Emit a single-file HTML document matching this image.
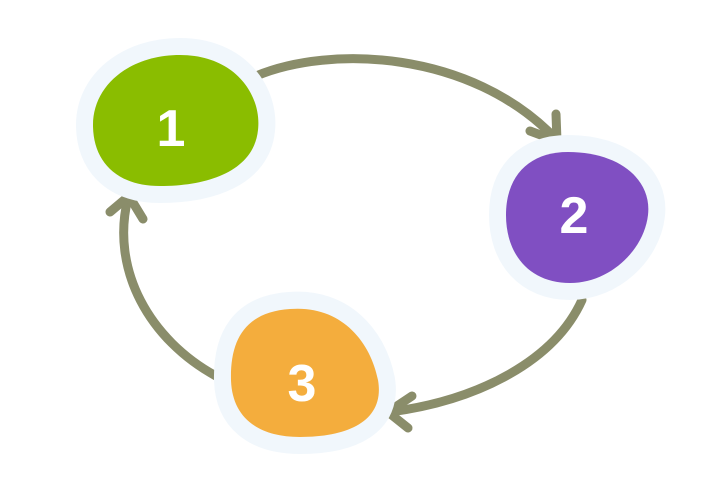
<!DOCTYPE html>
<html><head><meta charset="utf-8"><style>html,body{margin:0;padding:0;background:#fff;}svg{display:block}</style></head>
<body>
<svg width="720" height="480" viewBox="0 0 720 480" xmlns="http://www.w3.org/2000/svg">
<g fill="none" stroke="#8a8d6a" stroke-width="9" stroke-linecap="round" stroke-linejoin="round">
<path d="M256 76 C 330 45 470 50 555 138"/>
<path d="M556 114 L557 141 L530 131"/>
<path d="M582 300 C 555 360 480 400 390 412"/>
<path d="M412 396 L388 412 L408 428"/>
<path d="M216 376 C 150 340 110 270 128 198"/>
<path d="M110 212 L129 196 L143 219"/>
</g>
<g stroke="#f1f7fc" stroke-width="34" stroke-linejoin="round">
<path d="M180 55 C 235 55 262 95 258 130 C 254 170 210 186 160 186 C 115 186 93 160 93 125 C 93 85 130 55 180 55 Z" fill="#f1f7fc"/>
<path d="M568 152 C 620 152 652 180 648 215 C 644 250 610 283 570 283 C 530 283 506 255 506 215 C 506 175 530 152 568 152 Z" fill="#f1f7fc"/>
<path d="M290 309 C 340 305 370 340 378 380 C 385 420 350 437 300 437 C 255 437 232 415 231 380 C 230 340 245 312 290 309 Z" fill="#f1f7fc"/>
</g>
<path d="M180 55 C 235 55 262 95 258 130 C 254 170 210 186 160 186 C 115 186 93 160 93 125 C 93 85 130 55 180 55 Z" fill="#8abd00"/>
<path d="M568 152 C 620 152 652 180 648 215 C 644 250 610 283 570 283 C 530 283 506 255 506 215 C 506 175 530 152 568 152 Z" fill="#804fc2"/>
<path d="M290 309 C 340 305 370 340 378 380 C 385 420 350 437 300 437 C 255 437 232 415 231 380 C 230 340 245 312 290 309 Z" fill="#f4ad3d"/>
<g fill="#fff" font-family="Liberation Sans, sans-serif" font-weight="bold" font-size="52" text-anchor="middle">
<text x="171" y="146">1</text>
<text x="574" y="233">2</text>
<text x="302" y="401">3</text>
</g>
</svg>
</body></html>
